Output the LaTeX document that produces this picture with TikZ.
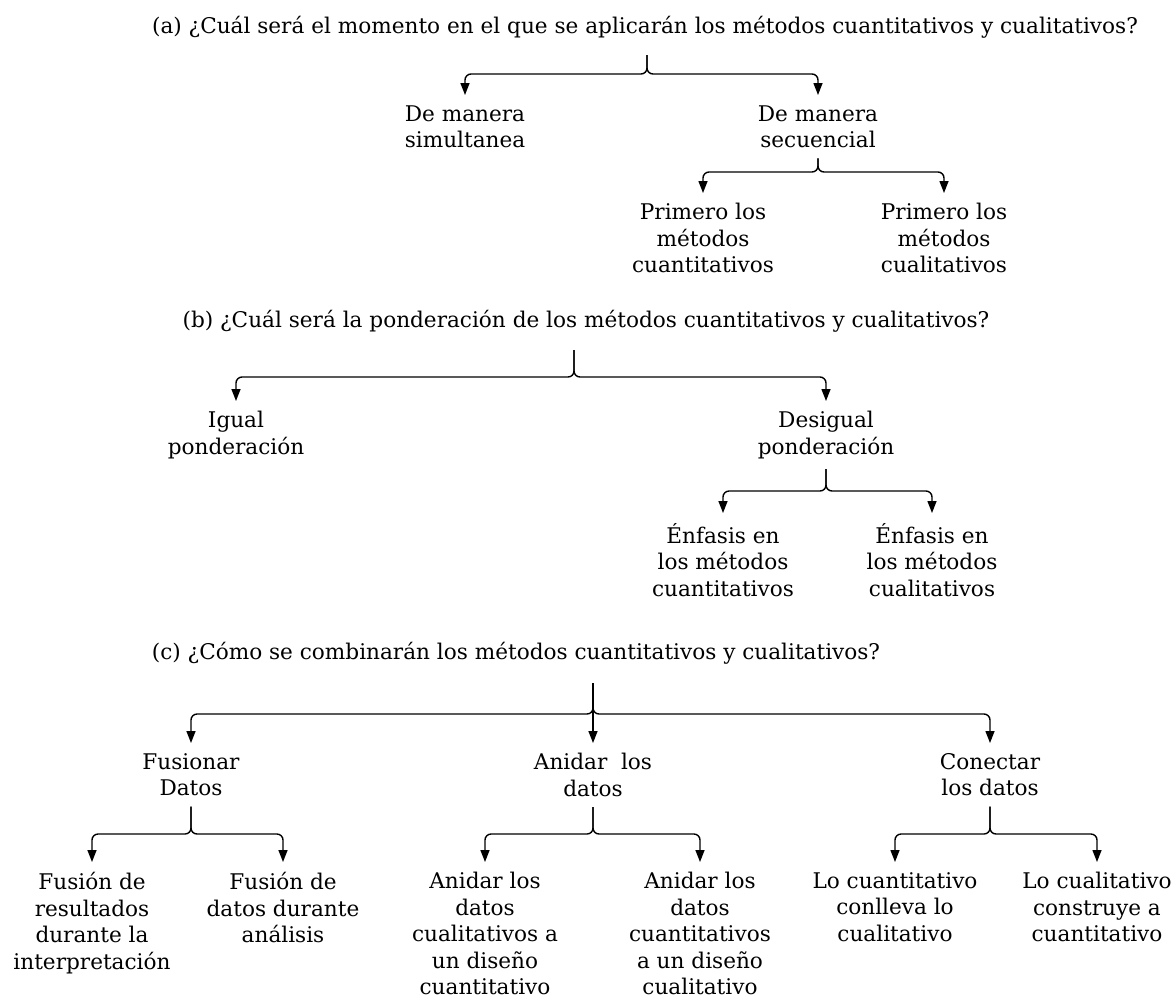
\documentclass[tikz,border=0pt]{standalone}
\usepackage{fontspec}
\setmainfont{DejaVu Serif}
\usetikzlibrary{arrows.meta,positioning}

\begin{document}
\begin{tikzpicture}[
    x=0.5pt, y=-0.5pt,
    every node/.style={font=\fontsize{10.8}{13.25}\selectfont},
    title/.style={anchor=base, inner sep=0pt},
    item/.style={anchor=north, align=center, inner xsep=2pt, inner ysep=5pt},
    arrow/.style={-{Triangle[length=6pt,width=4.5pt]}, line width=0.7pt, rounded corners=3pt}
]
\useasboundingbox (0,0) rectangle (1174,998);

\node[title] (qa) at (645,33) {(a) ¿Cuál será el momento en el que se aplicarán los métodos cuantitativos y cualitativos?};
\coordinate (sa) at (647,55);
\node[item] (sim) at (465,95) {De manera\\simultanea};
\node[item] (sec) at (818,95) {De manera\\secuencial};
\node[item] (cuan1) at (703,193) {Primero los\\métodos\\cuantitativos};
\node[item] (cual1) at (944,193) {Primero los\\métodos\\cualitativos};

\node[title] (qb) at (586,327) {(b) ¿Cuál será la ponderación de los métodos cuantitativos y cualitativos?};
\coordinate (sb) at (574,350);
\node[item] (igual) at (236,401) {Igual\\ponderación};
\node[item] (desig) at (826,401) {Desigual\\ponderación};
\node[item] (enf1) at (723,513) {Énfasis en\\los métodos\\cuantitativos};
\node[item] (enf2) at (932,513) {Énfasis en\\los métodos\\cualitativos};

\node[title] (qc) at (516,659) {(c) ¿Cómo se combinarán los métodos cuantitativos y cualitativos?};
\coordinate (sc) at (593,683);
\node[item] (fus) at (191,743) {Fusionar\\Datos};
\node[item] (ani) at (593,743) {Anidar\ \ los\\datos};
\node[item] (con) at (990,743) {Conectar\\los datos};
\node[item] (fus1) at (92,862) {Fusión de\\resultados\\durante la\\interpretación};
\node[item] (fus2) at (283,862) {Fusión de\\datos durante\\análisis};
\node[item] (ani1) at (485,862) {Anidar los\\datos\\cualitativos a\\un diseño\\cuantitativo};
\node[item] (ani2) at (700,862) {Anidar los\\datos\\cuantitativos\\a un diseño\\cualitativo};
\node[item] (con1) at (895,862) {Lo cuantitativo\\conlleva lo\\cualitativo};
\node[item] (con2) at (1097,862) {Lo cualitativo\\construye a\\cuantitativo};

\draw[arrow] (sa) |- ([yshift=10.5pt]sim.north) -- (sim);
\draw[arrow] (sa) |- ([yshift=10.5pt]sec.north) -- (sec);
\draw[arrow] (sec.south) |- ([yshift=10.5pt]cuan1.north) -- (cuan1);
\draw[arrow] (sec.south) |- ([yshift=10.5pt]cual1.north) -- (cual1);

\draw[arrow] (sb) |- ([yshift=12pt]igual.north) -- (igual);
\draw[arrow] (sb) |- ([yshift=12pt]desig.north) -- (desig);
\draw[arrow] (desig.south) |- ([yshift=11pt]enf1.north) -- (enf1);
\draw[arrow] (desig.south) |- ([yshift=11pt]enf2.north) -- (enf2);

\draw[arrow] (sc) |- ([yshift=14.5pt]fus.north) -- (fus);
\draw[arrow] (sc) -- (ani);
\draw[arrow] (sc) |- ([yshift=14.5pt]con.north) -- (con);
\draw[arrow] (fus.south) |- ([yshift=14pt]fus1.north) -- (fus1);
\draw[arrow] (fus.south) |- ([yshift=14pt]fus2.north) -- (fus2);
\draw[arrow] (ani.south) |- ([yshift=14pt]ani1.north) -- (ani1);
\draw[arrow] (ani.south) |- ([yshift=14pt]ani2.north) -- (ani2);
\draw[arrow] (con.south) |- ([yshift=14pt]con1.north) -- (con1);
\draw[arrow] (con.south) |- ([yshift=14pt]con2.north) -- (con2);
\end{tikzpicture}
\end{document}
